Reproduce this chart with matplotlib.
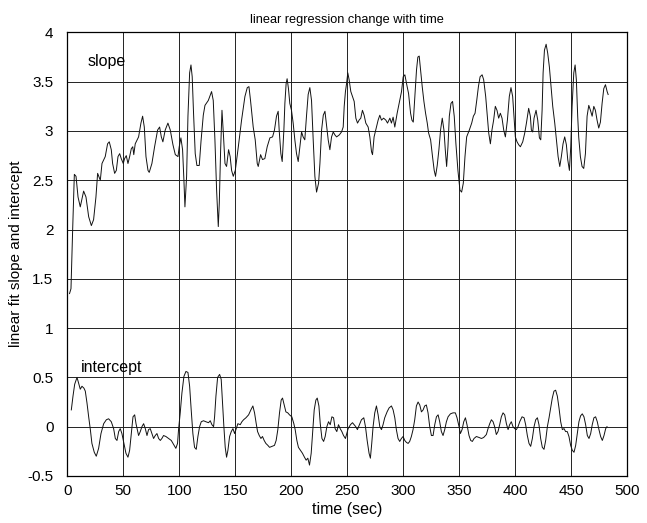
import matplotlib
matplotlib.use("Agg")
import matplotlib.pyplot as plt

# ---- data ----
slope_t = [2, 3.3, 4.8, 6.3, 7.8, 9.6, 11.6, 14.6, 16.7, 19.1, 21.5, 23.5, 25.6, 27.1, 29.5, 31, 33.9, 36, 37.5,
           39.3, 40.5, 42.3, 43.8, 45.3, 46.8, 48.2, 50, 51.2, 52.7, 54.2, 55.7, 57.2, 58.5, 59.4, 60.7, 63.7, 65.8,
           67.3, 68.8, 70.3, 72.1, 73.2, 75.6, 78, 80.7, 82.5, 84, 85.4, 87.5, 89.9, 92, 94.4, 96.5, 98.9, 100,
           101.5, 103, 104.2, 105.1, 106.6, 107.8, 109.3, 110.5, 111.6, 112.8, 114.3, 115.8, 117.9, 119.5, 121.5,
           123, 126, 128.9, 130.4, 131.9, 133.4, 134.9, 135.8, 137, 138.2, 139.4, 140.9, 142.3, 144.1, 145.5,
           146.8, 148.3, 150.1, 152.8, 155.7, 158.7, 160.8, 162.3, 163.7, 166.1, 167.9, 169.7, 170.6, 172.7,
           174.4, 176.5, 178.6, 181, 183.4, 185.1, 186.9, 188.4, 189.3, 190.8, 192, 193.5, 194.4, 195.5, 196.4,
           197.6, 198.8, 200.3, 201.8, 203.3, 204.8, 206.3, 207.8, 209.3, 210.7, 212.2, 213.7, 215.2, 216.7,
           218.2, 219.7, 221.2, 222.7, 224.5, 225.7, 227.2, 228.7, 230.2, 231.6, 233.1, 234.6, 236.1, 237.6,
           239.1, 240.6, 243, 245, 246.5, 247.4, 248.5, 249.5, 250.6, 251.8, 253.3, 254.8, 256.3, 257.8, 259.3,
           260.7, 262.2, 263.7, 265.2, 266.7, 268.8, 270.3, 271.8, 272.7, 274.1, 275.6, 277.7, 279.2, 280.7,
           282.6, 284.6, 286.1, 288.2, 289.6, 291.1, 292.6, 294.7, 296.5, 298.6, 300.1, 301.6, 303.1, 304.9,
           306.7, 307.9, 309.1, 310.5, 312, 313.2, 314.4, 315.6, 317.1, 318.6, 320.1, 321.6, 322.8, 324.6,
           326.3, 327.8, 329, 330.5, 332, 333.5, 335, 336.5, 337.7, 338.9, 340.1, 341.3, 342.8, 344.2, 345.7,
           347.2, 349, 350.8, 352.3, 353.8, 355.3, 356.8, 359.2, 361.3, 362.8, 364.3, 365.8, 367.3, 368.8,
           370.6, 372, 373.8, 375, 376.5, 378, 379.4, 380.9, 382.4, 383.9, 385.4, 386.9, 388.4, 389.9, 391.4,
           393.2, 394.9, 396.4, 397.9, 399.1, 400.3, 401.8, 403.3, 404.8, 406.9, 408.7, 410.2, 412.2, 413.7,
           414.6, 415.8, 417, 418.8, 420.3, 421.8, 423, 424.2, 425.1, 426.3, 427.8, 429.2, 430.7, 432.2, 433.7,
           435.5, 437, 438.5, 440, 441.4, 442.9, 444.4, 445.9, 447.1, 448.6, 449.8, 451, 452.5, 453.7, 454.8,
           456, 456.9, 458.4, 459.9, 461.4, 462.9, 464.4, 465.9, 467.4, 468.9, 470.4, 471.8, 473.3, 474.8,
           476.3, 477.8, 479.3, 480.8, 482.3, 483.2]
slope_v = [1.35, 1.4, 2.0, 2.56, 2.54, 2.33, 2.23, 2.39, 2.33, 2.13, 2.04, 2.1, 2.33, 2.57, 2.5, 2.67, 2.74, 2.87, 2.89,
           2.81, 2.67, 2.57, 2.6, 2.74, 2.77, 2.72, 2.67, 2.72, 2.75, 2.67, 2.74, 2.82, 2.84, 2.76, 2.87, 2.94, 3.08,
           3.15, 3.04, 2.74, 2.6, 2.58, 2.67, 2.84, 3.01, 3.04, 2.94, 2.89, 3.01, 3.08, 3.01, 2.86, 2.76, 2.74, 2.84,
           2.93, 2.81, 2.5, 2.23, 2.54, 3.15, 3.59, 3.67, 3.55, 3.18, 2.77, 2.65, 2.65, 2.9, 3.16,
           3.26, 3.31, 3.4, 3.31, 2.91, 2.4, 2.03, 2.27, 2.81, 3.21, 2.98, 2.67, 2.64, 2.81, 2.74,
           2.6, 2.54, 2.6, 2.84, 3.11, 3.35, 3.44, 3.45, 3.31, 3.04, 2.91, 2.67, 2.64, 2.76,
           2.71, 2.72, 2.84, 2.93, 2.94, 3.01, 3.15, 3.2, 3.01, 2.77, 2.69, 3.01, 3.28, 3.48, 3.53,
           3.43, 3.28, 3.21, 3.08, 2.91, 2.77, 2.69, 2.84, 2.99, 2.94, 2.91, 3.15, 3.37, 3.44,
           3.31, 2.91, 2.54, 2.38, 2.47, 2.67, 3.01, 3.16, 3.2, 3.06, 2.91, 2.81, 2.94, 2.99,
           2.96, 2.94, 2.96, 2.99, 3.04, 3.25, 3.4, 3.48, 3.59, 3.52, 3.4, 3.35, 3.3, 3.13, 3.08,
           3.11, 3.13, 3.21, 3.16, 3.08, 3.04, 2.94, 2.79, 2.76, 2.94, 3.01, 3.11, 3.16, 3.11,
           3.13, 3.11, 3.08, 3.13, 3.08, 3.14, 3.04, 3.18, 3.28, 3.4, 3.55, 3.57, 3.48, 3.38,
           3.18, 3.11, 3.09, 3.35, 3.62, 3.75, 3.76, 3.62, 3.45, 3.3, 3.18, 3.08, 2.98, 2.91,
           2.74, 2.6, 2.54, 2.65, 2.81, 3.01, 3.13, 3.01, 2.81, 2.64, 2.84, 3.15, 3.28, 3.3, 3.15,
           2.87, 2.6, 2.4, 2.38, 2.47, 2.74, 2.94, 3.01, 3.08, 3.15, 3.18, 3.31, 3.45, 3.55,
           3.57, 3.52, 3.35, 3.18, 2.98, 2.87, 3.01, 3.11, 3.25, 3.21, 3.13, 3.18, 3.13, 3.01, 2.94,
           3.11, 3.35, 3.44, 3.35, 3.15, 2.94, 2.89, 2.86, 2.84, 2.89, 2.98, 3.08, 3.23, 3.15,
           3.01, 2.99, 3.13, 3.21, 3.11, 2.93, 2.91, 3.21, 3.59, 3.82, 3.88, 3.79, 3.65, 3.45, 3.25,
           3.08, 2.91, 2.74, 2.64, 2.74, 2.87, 2.94, 2.86, 2.71, 2.6, 2.84, 3.25, 3.59, 3.67, 3.52,
           3.15, 2.94, 2.74, 2.64, 2.62, 2.77, 3.15, 3.26, 3.21, 3.15, 3.25, 3.21, 3.11, 3.03,
           3.09, 3.28, 3.43, 3.47, 3.4, 3.37]

intercept_t = [3.6, 5.1, 6.6, 8.7, 10.1, 11.6, 13.1, 14.9, 16.1, 17.6, 19.1, 20.6, 22, 24.1, 25.9, 28, 30.1, 32.5,
               34.9, 36.9, 39.3, 41.4, 42.9, 44.4, 45.9, 47.3, 48.8, 50.6, 52.4, 54.2, 55.7, 57.2, 58.7, 60.2,
               61.4, 62.6, 63.7, 65.2, 66.7, 68.2, 69.7, 71.2, 72.6, 74.1, 75.6, 77.1, 78.6, 80.1, 81.6, 83.1,
               84.5, 86, 88.1, 90.5, 92.9, 95, 97, 98.5, 99.4, 100.9, 102.4, 104.2, 106, 107.8, 109.3, 110.7,
               112.2, 113.7, 115.2, 116.7, 118.2, 119.7, 121.7, 123.8, 126.2, 127.7, 129.2, 130.7, 131.6, 132.8,
               134.3, 136.1, 137.5, 138.7, 139.9, 141.1, 142.3, 143.5, 145, 146.5, 148, 149.5, 151, 152.4, 154.5,
               156, 157.5, 159.6, 162, 164, 165.8, 167.3, 168.8, 170, 171.5, 173, 174.4, 175.9, 177.4, 179.2,
               180.7, 182.8, 185.1, 186.6, 188.1, 189.6, 191.1, 192.3, 193.8, 195.3, 197, 198.5, 200.6, 202.4,
               203.6, 205.1, 206.5, 208.3, 210.1, 211.9, 213.4, 214.9, 216.4, 217.9, 219.1, 220.6, 222.1, 223.3,
               224.8, 226, 227.5, 229, 230.4, 231.9, 233.4, 234.9, 236.4, 237.9, 239.3, 240.8, 242.3, 243.8,
               245.3, 246.8, 248.5, 250.9, 253, 254.8, 256.3, 257.7, 259.2, 261, 262.8, 264.9, 266.4, 267.9,
               269.6, 270.8, 272, 273.2, 274.7, 276.2, 277.7, 279.2, 280.7, 282.1, 283.6, 285.7, 287.5, 289.6,
               291.1, 292.6, 294, 295.5, 297, 298.5, 300, 301.5, 303, 304.5, 305.9, 307.4, 308.9, 310.4, 311.9,
               313.4, 314.9, 316.4, 317.9, 319.3, 320.8, 322.3, 323.8, 325.3, 326.8, 328.3, 329.8, 331.3, 332.7,
               334.2, 335.7, 337.2, 338.7, 340.2, 342.3, 344.6, 346.7, 348.2, 350, 351.2, 352.7, 354.2, 355.7,
               357.1, 358.9, 360.4, 361.9, 363.4, 365.5, 367.9, 370, 372, 374.4, 375.9, 377.4, 378.9, 380.4,
               381.8, 383.3, 384.8, 386.3, 387.8, 389.3, 390.8, 392.3, 393.8, 395.2, 396.7, 398.2, 399.7, 401.2,
               402.7, 404.2, 406.3, 408.1, 409.5, 411, 412.5, 414, 415.5, 417, 418.5, 420, 421.4, 422.9, 424.4,
               425.9, 427.4, 428.9, 430.4, 431.9, 433.3, 434.8, 436.3, 437.8, 439.3, 440.8, 442.3, 443.8, 445.2,
               446.7, 448.2, 449.7, 451.2, 452.7, 454.2, 455.7, 457.1, 458.6, 460.1, 461.6, 463.1, 464.6, 466.1,
               467.6, 469, 470.5, 472, 473.5, 475, 476.5, 478, 479.5, 481, 482.2]
intercept_v = [0.17, 0.31, 0.43, 0.5, 0.44, 0.38, 0.41, 0.39, 0.36, 0.24, 0.1, -0.03, -0.17, -0.26, -0.3, -0.22, -0.07, 0.03,
               0.07, 0.08, 0.05, -0.02, -0.12, -0.14, -0.05, -0.02, -0.07, -0.17, -0.27, -0.31, -0.24, -0.07, 0.1, 0.12,
               0.03, -0.03, -0.09, -0.05, 0.0, 0.03, -0.02, -0.09, -0.03, -0.02, -0.07, -0.12, -0.09, -0.07, -0.12, -0.14,
               -0.12, -0.09, -0.1, -0.12, -0.14, -0.18, -0.22, -0.17, -0.03, 0.14, 0.34, 0.51, 0.56, 0.55, 0.41, 0.17,
               -0.07, -0.21, -0.23, -0.1, 0.0, 0.05, 0.06, 0.05, 0.04, 0.06, 0.02, 0.0, 0.1, 0.31,
               0.5, 0.53, 0.48, 0.24, 0.0, -0.21, -0.31, -0.24, -0.1, -0.05, -0.02, -0.07, -0.02, 0.03, 0.02,
               0.05, 0.07, 0.09, 0.12, 0.17, 0.21, 0.14, 0.03, -0.05, -0.09, -0.12, -0.1, -0.14, -0.17, -0.19,
               -0.21, -0.2, -0.19, -0.14, -0.03, 0.14, 0.27, 0.29, 0.22, 0.15, 0.14, 0.12, 0.1, 0.03,
               -0.03, -0.14, -0.21, -0.24, -0.27, -0.31, -0.34, -0.32, -0.39, -0.27, -0.07, 0.17, 0.27, 0.29,
               0.21, 0.03, -0.12, -0.15, -0.1, 0.0, 0.05, 0.02, 0.1, 0.09, -0.02, -0.05, 0.02, -0.02,
               -0.05, -0.09, -0.12, -0.02, 0.02, 0.04, 0.02, 0.0, -0.03, 0.02, 0.07, 0.09, 0.0, -0.14,
               -0.27, -0.32, -0.17, 0.0, 0.14, 0.21, 0.12, 0.0, -0.03, 0.02, 0.09, 0.15, 0.19, 0.21,
               0.17, 0.09, -0.03, -0.12, -0.15, -0.12, -0.1, -0.14, -0.16, -0.17, -0.15, -0.1, -0.03, 0.07, 0.21,
               0.25, 0.22, 0.15, 0.17, 0.21, 0.22, 0.14, 0.0, -0.09, -0.09, 0.02, 0.1, 0.12, 0.05,
               -0.05, -0.09, -0.03, 0.05, 0.1, 0.13, 0.14, 0.14, 0.09, 0.0, -0.07, -0.03, 0.05, 0.09,
               0.02, -0.09, -0.14, -0.15, -0.12, -0.1, -0.11, -0.12, -0.11, -0.08, -0.02, 0.03, 0.07, 0.05,
               0.0, -0.08, -0.05, 0.02, 0.1, 0.14, 0.12, 0.03, -0.03, 0.02, 0.05, 0.0, -0.02, -0.03,
               0.0, 0.05, 0.1, 0.09, 0.02, -0.09, -0.17, -0.2, -0.12, 0.0, 0.07, 0.09, 0.02, -0.12, -0.21,
               -0.23, -0.14, 0.0, 0.09, 0.19, 0.29, 0.36, 0.37, 0.31, 0.19, 0.05, -0.03, -0.02, -0.05,
               -0.05, -0.1, -0.19, -0.24, -0.26, -0.19, -0.07, 0.05, 0.11, 0.13, 0.1, 0.02, -0.09, -0.12,
               -0.07, 0.02, 0.09, 0.1, 0.05, -0.03, -0.1, -0.14, -0.09, -0.02, 0.0]

x_ticks = [0, 50, 100, 150, 200, 250, 300, 350, 400, 450, 500]
y_ticks = [-0.5, 0, 0.5, 1, 1.5, 2, 2.5, 3, 3.5, 4]
y_tick_labels = ["-0.5", "0", "0.5", "1", "1.5", "2", "2.5", "3", "3.5", "4"]

plt.rcParams['font.family'] = ['Liberation Sans', 'DejaVu Sans']

fig = plt.figure(figsize=(6.47, 5.23), dpi=100)
ax = fig.add_axes([0.104, 0.090, 0.865, 0.848])

ax.plot(slope_t, slope_v, color='#111111', lw=0.7)
ax.plot(intercept_t, intercept_v, color='#111111', lw=0.7)

ax.set_xlim(0, 500)
ax.set_ylim(-0.5, 4)
ax.set_xticks(x_ticks)
ax.set_yticks(y_ticks)
ax.set_yticklabels(y_tick_labels)
ax.tick_params(length=0, labelsize=11)
ax.tick_params(axis='y', pad=10)
ax.tick_params(axis='x', pad=6)
ax.grid(True, color='#222222', lw=0.7)
ax.set_axisbelow(True)
for s in ax.spines.values():
    s.set_linewidth(0.9)

ax.set_title("linear regression change with time", fontsize=9.2, pad=7)
ax.set_xlabel("time (sec)", fontsize=11.5, labelpad=3)
ax.set_ylabel("linear fit slope and intercept", fontsize=11, labelpad=3)

ax.text(18.5, 3.7, "slope", fontsize=11.5, va='center', ha='left')
ax.text(12.5, 0.6, "intercept", fontsize=11.5, va='center', ha='left')

fig.savefig("out.png", dpi=100)
